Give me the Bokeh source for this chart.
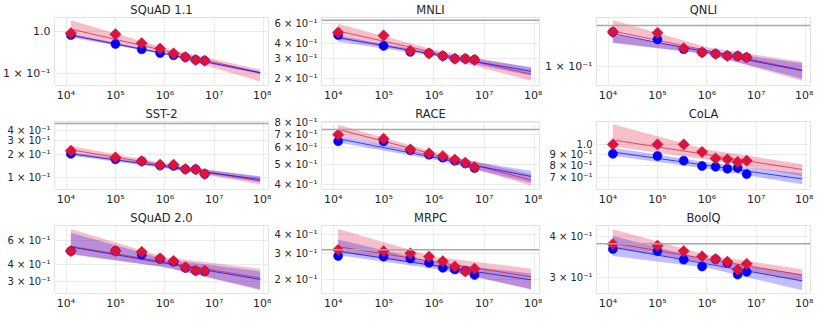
import numpy as np
from bokeh.plotting import figure
from bokeh.layouts import gridplot
from bokeh.models import Range1d, FixedTicker, Span, ColumnDataSource, Whisker, TeeHead
from bokeh.embed import file_html
from bokeh.resources import INLINE

# ---------------- data ----------------
sizes = [1.25e4, 1e5, 3.4e5, 8e5, 1.5e6, 2.6e6, 4.2e6, 6.4e6]
fit_x = [1.25e4, 8.5e7]
band_x = [1.25e4, 1e6, 8.5e7]

x_ticks = [1e4, 1e5, 1e6, 1e7, 1e8]
x_tick_labels = ["10⁴", "10⁵", "10⁶", "10⁷", "10⁸"]
x_lim = [10 ** 3.766, 10 ** 8.098]

tasks = ["SQuAD 1.1", "MNLI", "QNLI", "SST-2", "RACE", "CoLA", "SQuAD 2.0", "MRPC", "BoolQ"]

squad11_blue = [0.837, 0.512, 0.381, 0.31, 0.275, 0.247, 0.213, 0.204]
squad11_red = [0.93, 0.875, 0.536, 0.398, 0.305, 0.247, 0.213, 0.204]
squad11_blue_fit = [0.837, 0.105]
squad11_red_fit = [1.16, 0.105]
squad11_blue_lo = [0.777, 0.281, 0.097]
squad11_blue_hi = [0.9, 0.317, 0.113]
squad11_red_lo = [0.72, 0.303, 0.065]
squad11_red_hi = [1.89, 0.408, 0.125]
squad11_err = [0.01, 0.01, 0.01, 0.01, 0.01, 0.01, 0.01, 0.01]
squad11_yticks = [0.1, 1.0]
squad11_ylabels = ["1 × 10⁻¹", "1.0"]
squad11_ylim = [0.052, 2.2]
squad11_ref = None

mnli_blue = [0.476, 0.383, 0.34, 0.33, 0.313, 0.296, 0.296, 0.29]
mnli_red = [0.503, 0.472, 0.348, 0.33, 0.313, 0.296, 0.296, 0.29]
mnli_blue_fit = [0.452, 0.23]
mnli_red_fit = [0.517, 0.217]
mnli_blue_lo = [0.417, 0.313, 0.211]
mnli_blue_hi = [0.47, 0.334, 0.251]
mnli_red_lo = [0.44, 0.318, 0.19]
mnli_red_hi = [0.598, 0.355, 0.246]
mnli_err = [0.008, 0.008, 0.008, 0.008, 0.008, 0.008, 0.008, 0.008]
mnli_yticks = [0.2, 0.3, 0.4, 0.6]
mnli_ylabels = ["2 × 10⁻¹", "3 × 10⁻¹", "4 × 10⁻¹", "6 × 10⁻¹"]
mnli_ylim = [0.173, 0.678]
mnli_ref = 0.643

qnli_blue = [0.161, 0.145, 0.1265, 0.121, 0.1185, 0.1154, 0.115, 0.1128]
qnli_red = [0.161, 0.159, 0.128, 0.121, 0.1185, 0.1154, 0.115, 0.1128]
qnli_blue_fit = [0.157, 0.0938]
qnli_red_fit = [0.163, 0.0945]
qnli_blue_lo = [0.138, 0.118, 0.0838]
qnli_blue_hi = [0.1545, 0.1253, 0.1038]
qnli_red_lo = [0.139, 0.1187, 0.0813]
qnli_red_hi = [0.19, 0.1302, 0.106]
qnli_err = [0.01, 0.01, 0.01, 0.01, 0.01, 0.01, 0.01, 0.01]
qnli_yticks = [0.1]
qnli_ylabels = ["1 × 10⁻¹"]
qnli_ylim = [0.0762, 0.197]
qnli_ref = 0.176

sst2_blue = [0.202, 0.172, 0.163, 0.144, 0.142, 0.129, 0.129, 0.112]
sst2_red = [0.222, 0.182, 0.163, 0.147, 0.147, 0.129, 0.128, 0.112]
sst2_blue_fit = [0.202, 0.0955]
sst2_red_fit = [0.227, 0.0918]
sst2_blue_lo = [0.191, 0.133, 0.0883]
sst2_blue_hi = [0.212, 0.146, 0.105]
sst2_red_lo = [0.202, 0.136, 0.0828]
sst2_red_hi = [0.255, 0.154, 0.103]
sst2_err = [0.03, 0.03, 0.03, 0.03, 0.03, 0.03, 0.03, 0.03]
sst2_yticks = [0.1, 0.2, 0.3, 0.4]
sst2_ylabels = ["1 × 10⁻¹", "2 × 10⁻¹", "3 × 10⁻¹", "4 × 10⁻¹"]
sst2_ylim = [0.0713, 0.52]
sst2_ref = 0.492

race_blue = [0.646, 0.645, 0.585, 0.556, 0.538, 0.52, 0.505, 0.48]
race_red = [0.695, 0.665, 0.59, 0.565, 0.548, 0.527, 0.509, 0.485]
race_blue_fit = [0.665, 0.437]
race_red_fit = [0.738, 0.42]
race_blue_lo = [0.637, 0.528, 0.407]
race_blue_hi = [0.69, 0.553, 0.465]
race_red_lo = [0.695, 0.541, 0.395]
race_red_hi = [0.777, 0.574, 0.448]
race_err = [0.015, 0.015, 0.015, 0.015, 0.015, 0.015, 0.015, 0.015]
race_yticks = [0.4, 0.5, 0.6, 0.7, 0.8]
race_ylabels = ["4 × 10⁻¹", "5 × 10⁻¹", "6 × 10⁻¹", "7 × 10⁻¹", "8 × 10⁻¹"]
race_ylim = [0.378, 0.805]
race_ref = 0.736

cola_blue = [0.904, 0.883, 0.84, 0.793, 0.786, 0.77, 0.777, 0.727]
cola_red = [1.0, 1.0, 1.0, 0.922, 0.86, 0.852, 0.828, 0.84]
cola_blue_fit = [0.922, 0.69]
cola_red_fit = [1.05, 0.764]
cola_blue_lo = [0.885, 0.771, 0.651]
cola_blue_hi = [0.966, 0.826, 0.731]
cola_red_lo = [0.977, 0.851, 0.712]
cola_red_hi = [1.243, 0.946, 0.809]
cola_err = [0.005, 0.005, 0.005, 0.025, 0.025, 0.025, 0.025, 0.015]
cola_yticks = [0.7, 0.8, 0.9, 1.0]
cola_ylabels = ["7 × 10⁻¹", "8 × 10⁻¹", "9 × 10⁻¹", "1.0"]
cola_ylim = [0.616, 1.28]
cola_ref = None

squad2_blue = [0.504, 0.504, 0.474, 0.44, 0.42, 0.378, 0.36, 0.357]
squad2_red = [0.504, 0.504, 0.497, 0.445, 0.425, 0.382, 0.361, 0.36]
squad2_blue_fit = [0.54, 0.31]
squad2_red_fit = [0.547, 0.318]
squad2_blue_lo = [0.475, 0.382, 0.262]
squad2_blue_hi = [0.689, 0.439, 0.356]
squad2_red_lo = [0.481, 0.384, 0.258]
squad2_red_hi = [0.735, 0.454, 0.373]
squad2_err = [0.02, 0.02, 0.02, 0.02, 0.02, 0.02, 0.02, 0.02]
squad2_yticks = [0.3, 0.4, 0.6]
squad2_ylabels = ["3 × 10⁻¹", "4 × 10⁻¹", "6 × 10⁻¹"]
squad2_ylim = [0.244, 0.78]
squad2_ref = None

mrpc_blue = [0.288, 0.285, 0.277, 0.259, 0.239, 0.233, 0.228, 0.214]
mrpc_red = [0.317, 0.31, 0.3, 0.285, 0.265, 0.244, 0.226, 0.236]
mrpc_blue_fit = [0.31, 0.198]
mrpc_red_fit = [0.333, 0.208]
mrpc_blue_lo = [0.291, 0.236, 0.172]
mrpc_blue_hi = [0.372, 0.261, 0.219]
mrpc_red_lo = [0.306, 0.244, 0.17]
mrpc_red_hi = [0.439, 0.285, 0.236]
mrpc_err = [0.035, 0.035, 0.035, 0.035, 0.035, 0.035, 0.035, 0.035]
mrpc_yticks = [0.2, 0.3, 0.4]
mrpc_ylabels = ["2 × 10⁻¹", "3 × 10⁻¹", "4 × 10⁻¹"]
mrpc_ylim = [0.16, 0.464]
mrpc_ref = 0.317

boolq_blue = [0.367, 0.362, 0.341, 0.325, 0.342, 0.333, 0.307, 0.313]
boolq_red = [0.38, 0.376, 0.362, 0.349, 0.342, 0.336, 0.318, 0.331]
boolq_blue_fit = [0.372, 0.294]
boolq_red_fit = [0.383, 0.306]
boolq_blue_lo = [0.35, 0.322, 0.275]
boolq_blue_hi = [0.402, 0.3405, 0.308]
boolq_red_lo = [0.369, 0.3332, 0.292]
boolq_red_hi = [0.422, 0.352, 0.319]
boolq_err = [0.015, 0.015, 0.015, 0.015, 0.015, 0.015, 0.015, 0.015]
boolq_yticks = [0.3, 0.4]
boolq_ylabels = ["3 × 10⁻¹", "4 × 10⁻¹"]
boolq_ylim = [0.269, 0.433]
boolq_ref = 0.381

keys = ["squad11", "mnli", "qnli", "sst2", "race", "cola", "squad2", "mrpc", "boolq"]
g = globals()
panels = [dict(blue=g[k + "_blue"], red=g[k + "_red"], bfit=g[k + "_blue_fit"],
               rfit=g[k + "_red_fit"], blo=g[k + "_blue_lo"], bhi=g[k + "_blue_hi"],
               rlo=g[k + "_red_lo"], rhi=g[k + "_red_hi"], err=g[k + "_err"],
               yt=g[k + "_yticks"], yl=g[k + "_ylabels"], ylim=g[k + "_ylim"],
               ref=g[k + "_ref"]) for k in keys]

# ---------------- styling ----------------
FONT = "DejaVu Sans"
BLUE = "#0000ff"
RED = "#dc143c"
TXT = "#262626"


def is_decade(v):
    lv = np.log10(v)
    return abs(lv - round(lv)) < 1e-9


def make_panel(title, d):
    p = figure(width=271, height=104, x_axis_type="log", y_axis_type="log",
               x_range=Range1d(x_lim[0], x_lim[1]),
               y_range=Range1d(d["ylim"][0], d["ylim"][1]),
               output_backend="svg", toolbar_location=None,
               min_border_left=50, min_border_right=3, min_border_top=0, min_border_bottom=0)
    p.title.text = title
    p.title.align = "center"
    p.title.text_font = FONT
    p.title.text_font_size = "11.5px"
    p.title.text_font_style = "normal"
    p.title.text_color = TXT
    p.title.offset = 0
    p.title.standoff = 1
    p.outline_line_color = "#e3e3e3"
    p.background_fill_color = "white"
    p.border_fill_color = "white"

    p.xaxis.ticker = FixedTicker(ticks=x_ticks)
    p.xaxis.major_label_overrides = {t: l for t, l in zip(x_ticks, x_tick_labels)}
    p.yaxis.ticker = FixedTicker(ticks=d["yt"])
    p.yaxis.major_label_overrides = {t: l for t, l in zip(d["yt"], d["yl"])}
    for ax in (p.xaxis[0], p.yaxis[0]):
        ax.axis_line_color = None
        ax.major_tick_line_color = None
        ax.minor_tick_line_color = None
        ax.major_tick_out = 0
        ax.major_tick_in = 0
        ax.minor_tick_out = 0
        ax.minor_tick_in = 0
        ax.major_label_text_font = FONT
        ax.major_label_text_color = TXT
    p.xaxis.major_label_standoff = 3
    p.yaxis.major_label_standoff = 4
    p.xaxis.major_label_text_font_size = "11px"
    # decade-only axes use the larger label size of the original
    all_decades = all(is_decade(t) for t in d["yt"])
    p.yaxis.major_label_text_font_size = "11px" if all_decades else "10px"
    p.xgrid.ticker = FixedTicker(ticks=x_ticks)
    p.ygrid.ticker = FixedTicker(ticks=d["yt"])
    p.xgrid.grid_line_color = "#ebebeb"
    p.ygrid.grid_line_color = "#ebebeb"

    # confidence bands
    p.varea(x=band_x, y1=d["rlo"], y2=d["rhi"], fill_color=RED, fill_alpha=0.27)
    p.varea(x=band_x, y1=d["blo"], y2=d["bhi"], fill_color=BLUE, fill_alpha=0.25)

    if d["ref"] is not None:
        p.add_layout(Span(location=d["ref"], dimension="width",
                          line_color="#a8a8a8", line_width=1.5))

    # fitted lines
    p.line(fit_x, d["rfit"], line_color=RED, line_alpha=0.7, line_width=1)
    p.line(fit_x, d["bfit"], line_color=BLUE, line_alpha=0.7, line_width=1)

    # points
    p.scatter(sizes, d["blue"], marker="circle", size=9, fill_color=BLUE,
              line_color=BLUE, line_alpha=0.6)
    p.scatter(sizes, d["red"], marker="square", size=8, angle=np.pi / 4,
              fill_color=RED, line_color=RED, line_alpha=0.6)

    # error bars
    for ys in (d["blue"], d["red"]):
        y = np.array(ys)
        e = np.array(d["err"])
        src = ColumnDataSource(dict(x=sizes, lo=y * (1 - e), hi=y * (1 + e)))
        p.add_layout(Whisker(source=src, base="x", lower="lo", upper="hi",
                             dimension="height", line_color="black", line_width=1.1,
                             upper_head=TeeHead(size=3, line_color="black", line_width=1),
                             lower_head=TeeHead(size=3, line_color="black", line_width=1)))
    return p


figs = [make_panel(t, d) for t, d in zip(tasks, panels)]
grid = gridplot([figs[0:3], figs[3:6], figs[6:9]], toolbar_location=None)

open("out.html", "w").write(file_html(grid, INLINE))
